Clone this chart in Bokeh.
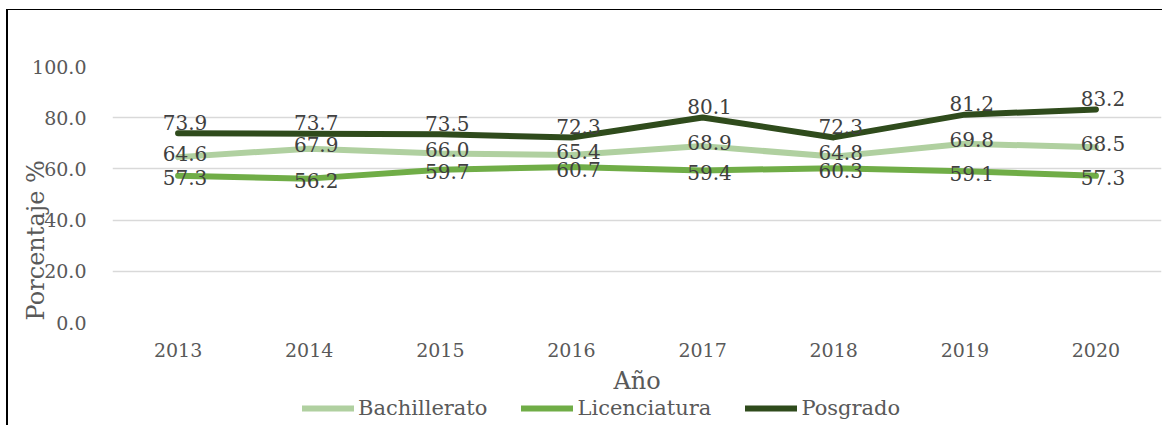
from bokeh.plotting import figure
from bokeh.layouts import column
from bokeh.models import ColumnDataSource, Range1d, Legend, LegendItem, CustomJSTickFormatter
from bokeh.core.properties import value
from bokeh.embed import file_html
from bokeh.resources import INLINE

years = ["2013", "2014", "2015", "2016", "2017", "2018", "2019", "2020"]
bachillerato = [64.6, 67.9, 66.0, 65.4, 68.9, 64.8, 69.8, 68.5]
licenciatura = [57.3, 56.2, 59.7, 60.7, 59.4, 60.3, 59.1, 57.3]
posgrado = [73.9, 73.7, 73.5, 72.3, 80.1, 72.3, 81.2, 83.2]
y_ticks = [0, 20, 40, 60, 80, 100]

FONT = "DejaVu Serif"
TXT = "#595959"
LAB = "#404040"

p = figure(x_range=years, y_range=Range1d(0, 100), width=1154, height=387,
           output_backend="svg", toolbar_location=None,
           min_border_left=104, min_border_right=1, min_border_top=56, min_border_bottom=73)
p.outline_line_color = None

p.xgrid.grid_line_color = None
p.ygrid.grid_line_color = "#D9D9D9"
p.ygrid.grid_line_width = 1.5
p.yaxis.ticker = y_ticks
p.yaxis.formatter = CustomJSTickFormatter(code="return tick.toFixed(1);")

for ax in (p.xaxis[0], p.yaxis[0]):
    ax.axis_line_color = None
    ax.major_tick_line_color = None
    ax.minor_tick_line_color = None
    ax.major_label_text_font = FONT
    ax.major_label_text_font_size = "19px"
    ax.major_label_text_color = TXT
    ax.axis_label_text_font = FONT
    ax.axis_label_text_font_size = "24px"
    ax.axis_label_text_font_style = "normal"
    ax.axis_label_text_color = TXT
p.yaxis.major_label_standoff = 20
p.xaxis.major_label_standoff = 14
p.xaxis.axis_label = "Año"
p.xaxis.axis_label_standoff = 7
p.yaxis.axis_label = "Porcentaje %" + "\u00a0" * 12
p.yaxis.axis_label_standoff = -21

series = [
    ("Bachillerato", bachillerato, "#B0D0A0", -4),
    ("Licenciatura", licenciatura, "#70AD47", 2),
    ("Posgrado", posgrado, "#2F4B1C", -11),
]

# legend strip below the chart
lg = figure(width=1154, height=28, x_range=Range1d(0, 1), y_range=Range1d(0, 1),
            output_backend="svg", toolbar_location=None, x_axis_type=None, y_axis_type=None,
            min_border=0)
lg.outline_line_color = None
lg.grid.grid_line_color = None

items = []
for name, vals, color, yoff in series:
    src = ColumnDataSource(dict(x=years, y=vals, lab=[f"{v:.1f}" for v in vals]))
    p.line("x", "y", source=src, line_color=color, line_width=6, line_cap="round", line_join="round")
    p.text("x", "y", text="lab", source=src, text_align="center", text_baseline="middle",
           x_offset=7, y_offset=yoff,
           text_font=value(FONT), text_font_size="20px", text_color=LAB)
    r = lg.line(x=[5, 6], y=[5, 6], line_color=color, line_width=6, line_cap="round")
    items.append(LegendItem(label=name, renderers=[r]))

legend = Legend(items=items, orientation="horizontal", location=(190, 5),
                label_text_font=FONT, label_text_font_size="21px", label_text_color=TXT,
                glyph_width=52, glyph_height=20, label_standoff=4, spacing=34,
                padding=0, margin=0, border_line_color=None, background_fill_alpha=0)
lg.add_layout(legend, "center")

layout = column(p, lg, spacing=0)
layout.styles = {"border-left": "2px solid black", "border-top": "1.5px solid black",
                 "margin-left": "6px", "margin-top": "9px"}

open("out.html", "w").write(file_html(layout, INLINE))
